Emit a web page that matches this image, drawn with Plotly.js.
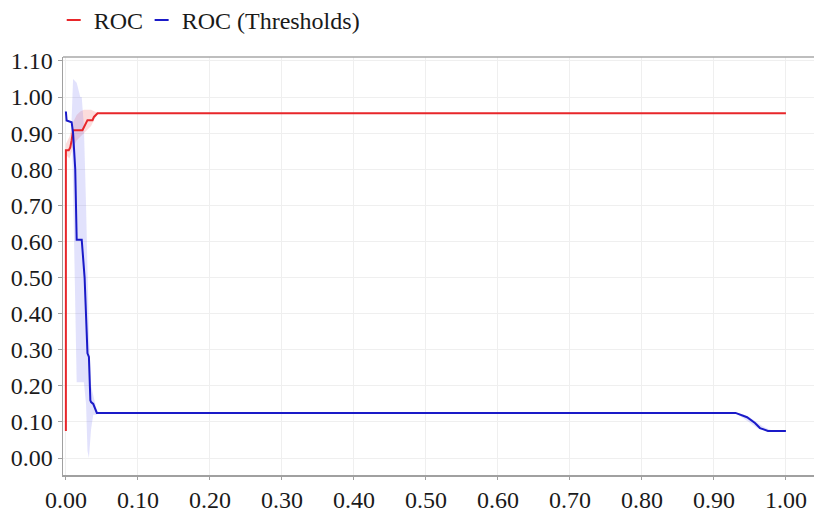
<!DOCTYPE html>
<html>
<head>
<meta charset="utf-8">
<script src="https://cdn.plot.ly/plotly-3.0.1.min.js"></script>
<style>html,body{margin:0;padding:0;background:#fff;}#chart{width:814px;height:512px;}</style>
</head>
<body>
<div id="chart"></div>
<script>
// ROC curve
const rocX = [0.0, 0.0, 0.004, 0.006, 0.008, 0.010, 0.023, 0.025, 0.030, 0.037, 0.039, 0.044, 1.0];
const rocY = [0.075, 0.853, 0.853, 0.860, 0.880, 0.908, 0.908, 0.915, 0.936, 0.936, 0.945, 0.955, 0.955];
const rocBandX = [0.0, 0.005, 0.010, 0.015, 0.020, 0.025, 0.030, 0.035, 0.040, 0.045];
const rocBandUpper = [0.87, 0.89, 0.93, 0.95, 0.96, 0.965, 0.965, 0.965, 0.96, 0.955];
const rocBandLower = [0.84, 0.83, 0.86, 0.88, 0.89, 0.90, 0.91, 0.92, 0.94, 0.955];

// ROC (Thresholds) curve
const thrX = [0.0, 0.001, 0.008, 0.010, 0.013, 0.015, 0.022, 0.024, 0.026, 0.030, 0.032, 0.034, 0.035, 0.038, 0.043, 0.930, 0.946, 0.957, 0.964, 0.975, 1.0];
const thrY = [0.960, 0.935, 0.930, 0.900, 0.800, 0.605, 0.605, 0.560, 0.500, 0.290, 0.280, 0.160, 0.155, 0.150, 0.125, 0.125, 0.113, 0.097, 0.083, 0.075, 0.075];
const thrBandX = [0.008, 0.010, 0.015, 0.020, 0.022, 0.025, 0.028, 0.030, 0.032, 0.035, 0.038, 0.042, 0.045];
const thrBandUpper = [0.94, 1.05, 1.04, 1.00, 1.00, 0.92, 0.70, 0.50, 0.35, 0.20, 0.17, 0.14, 0.125];
const thrBandLower = [0.92, 0.75, 0.21, 0.21, 0.21, 0.21, 0.15, 0.02, 0.00, 0.08, 0.12, 0.12, 0.125];
const thrTailBandX = [0.930, 0.940, 0.950, 0.960, 0.970, 0.980];
const thrTailBandUpper = [0.125, 0.122, 0.112, 0.098, 0.085, 0.077];
const thrTailBandLower = [0.125, 0.112, 0.098, 0.083, 0.075, 0.074];

const tickVals = [0, 0.1, 0.2, 0.3, 0.4, 0.5, 0.6, 0.7, 0.8, 0.9, 1.0];
const yTickVals = [0, 0.1, 0.2, 0.3, 0.4, 0.5, 0.6, 0.7, 0.8, 0.9, 1.0, 1.1];

const RED = '#e8262a';
const BLUE = '#1a1ac8';

const traces = [
  {x: rocBandX, y: rocBandLower, mode: 'lines', line: {width: 0}, showlegend: false, hoverinfo: 'skip'},
  {x: rocBandX, y: rocBandUpper, mode: 'lines', line: {width: 0}, fill: 'tonexty', fillcolor: 'rgba(240,60,60,0.18)', showlegend: false, hoverinfo: 'skip'},
  {x: thrBandX, y: thrBandLower, mode: 'lines', line: {width: 0}, showlegend: false, hoverinfo: 'skip'},
  {x: thrBandX, y: thrBandUpper, mode: 'lines', line: {width: 0}, fill: 'tonexty', fillcolor: 'rgba(110,110,240,0.2)', showlegend: false, hoverinfo: 'skip'},
  {x: thrTailBandX, y: thrTailBandLower, mode: 'lines', line: {width: 0}, showlegend: false, hoverinfo: 'skip'},
  {x: thrTailBandX, y: thrTailBandUpper, mode: 'lines', line: {width: 0}, fill: 'tonexty', fillcolor: 'rgba(110,110,240,0.2)', showlegend: false, hoverinfo: 'skip'},
  {x: rocX, y: rocY, mode: 'lines', name: 'ROC', line: {color: RED, width: 2}, showlegend: false},
  {x: thrX, y: thrY, mode: 'lines', name: 'ROC (Thresholds)', line: {color: BLUE, width: 2}, showlegend: false},
  {x: [null], y: [null], mode: 'markers', name: 'ROC', legend: 'legend', marker: {symbol: 'line-ew-open', size: 10, color: RED, line: {color: RED, width: 2}}},
  {x: [null], y: [null], mode: 'markers', name: 'ROC (Thresholds)', legend: 'legend2', marker: {symbol: 'line-ew-open', size: 10, color: BLUE, line: {color: BLUE, width: 2}}}
];

const legendBase = {orientation: 'h', xref: 'container', yref: 'container', xanchor: 'left', y: 0.96, yanchor: 'middle',
                    itemwidth: 30, font: {size: 24}, bgcolor: 'rgba(0,0,0,0)'};

const layout = {
  width: 814, height: 512,
  margin: {l: 63, r: 0, t: 57, b: 37},
  paper_bgcolor: '#ffffff', plot_bgcolor: '#ffffff',
  font: {family: '"Liberation Serif", "Times New Roman", serif', size: 24, color: '#1a1a1a'},
  showlegend: true,
  legend: Object.assign({}, legendBase, {x: 0.066}),
  legend2: Object.assign({}, legendBase, {x: 0.174}),
  xaxis: {range: [-0.004, 1.039], tickvals: tickVals, ticktext: tickVals.map(v => v.toFixed(2)),
          showgrid: true, gridcolor: '#efefef', gridwidth: 1, zeroline: false,
          showline: true, linecolor: '#a0a0a0', linewidth: 1.5, ticks: 'outside', ticklen: 3, tickcolor: '#a0a0a0',
          tickfont: {size: 24}, fixedrange: true, automargin: false},
  yaxis: {range: [-0.047, 1.111], tickvals: yTickVals, ticktext: yTickVals.map(v => v.toFixed(2)),
          showgrid: true, gridcolor: '#efefef', gridwidth: 1, zeroline: false,
          showline: true, linecolor: '#a0a0a0', linewidth: 1.5, ticks: 'outside', ticklen: 4, tickcolor: '#a0a0a0',
          tickfont: {size: 24}, fixedrange: true, automargin: false},
  shapes: [{type: 'line', xref: 'paper', yref: 'paper', x0: 0, x1: 1, y0: 1, y1: 1, line: {color: '#a8a8a8', width: 1.5}}]
};

Plotly.newPlot('chart', traces, layout, {displayModeBar: false, staticPlot: true});
</script>
</body>
</html>
